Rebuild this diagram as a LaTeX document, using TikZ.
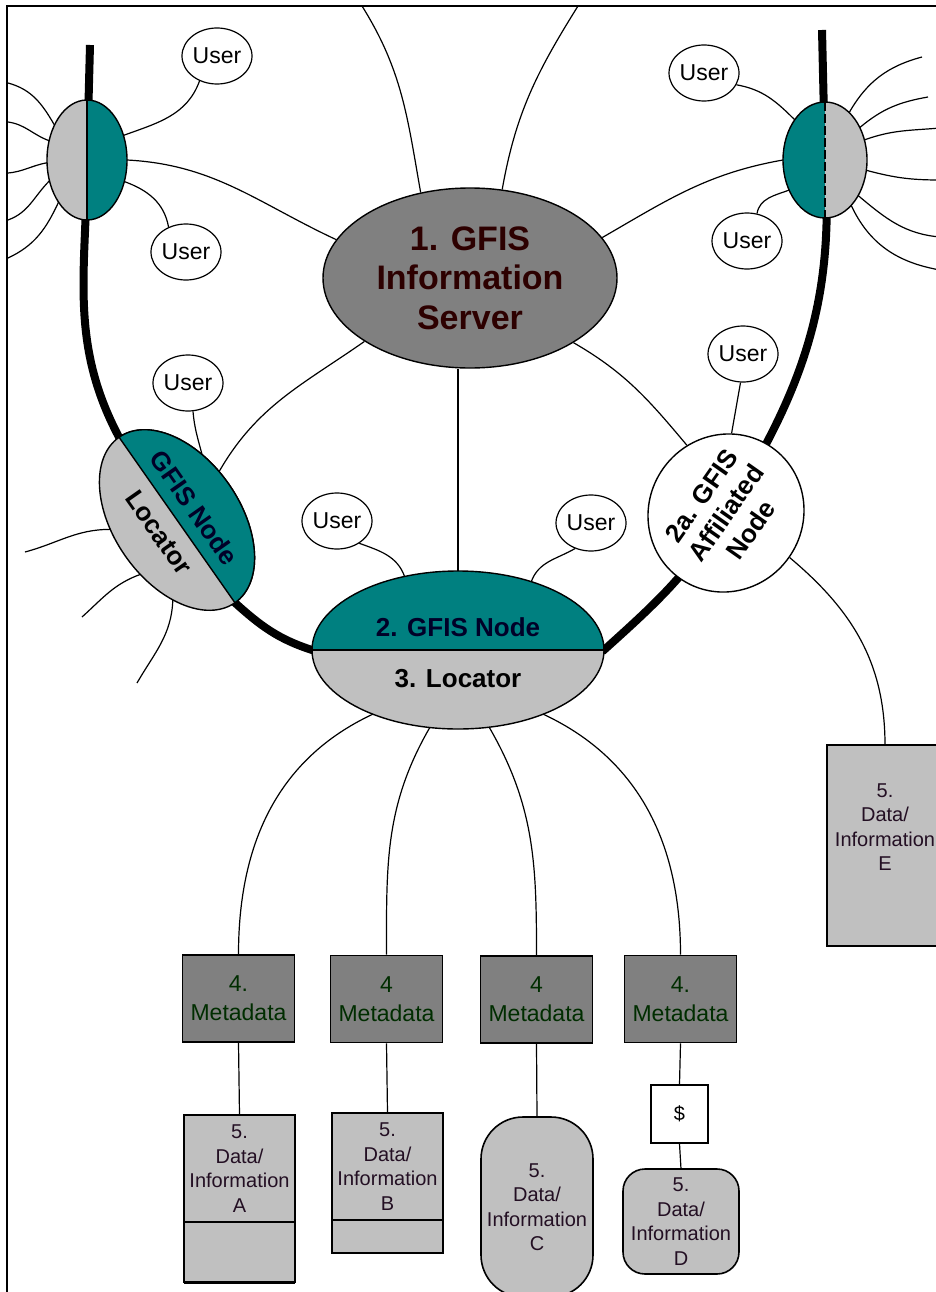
\documentclass[tikz,border=0pt]{standalone}
\usepackage{fontspec}
\setmainfont{Liberation Sans}
\usepackage{tikz}
\usetikzlibrary{positioning,calc,shapes.geometric,backgrounds}
\definecolor{gfisteal}{RGB}{0,128,128}
\definecolor{lightgrey}{RGB}{192,192,192}
\definecolor{darkgrey}{RGB}{128,128,128}
\definecolor{servertext}{RGB}{45,0,0}
\definecolor{metatext}{RGB}{0,45,0}
\definecolor{datatext}{RGB}{35,15,35}
\definecolor{nodetext}{RGB}{0,0,40}
\newcommand{\fsUser}{\fontsize{23}{27}\selectfont}
\newcommand{\fsServer}{\fontsize{34}{39.5}\selectfont\bfseries}
\newcommand{\fsNode}{\fontsize{26}{30}\selectfont\bfseries}
\newcommand{\fsMeta}{\fontsize{23}{29}\selectfont}
\newcommand{\fsData}{\fontsize{20}{24.5}\selectfont}
\tikzset{
    borderline/.style={
        line width=2pt
    },
    link/.style={
        line width=1.2pt
    },
    backbone/.style={
        line width=8pt
    },
    user/.style={
        ellipse,
        draw,
        line width=1.2pt,
        fill=white,
        inner sep=0pt,
        minimum width=70pt,
        minimum height=56pt,
        font=\fsUser
    },
    halfnode/.style={
        ellipse,
        draw,
        line width=1.4pt,
        fill=lightgrey,
        inner sep=0pt,
        outer sep=0pt
    },
    server/.style={
        ellipse,
        draw,
        line width=1.4pt,
        fill=darkgrey,
        inner sep=0pt,
        align=center,
        text=servertext,
        font=\fsServer
    },
    nodelabel/.style={
        font=\fsNode,
        inner sep=0pt
    },
    metabox/.style={
        rectangle,
        draw,
        line width=1.6pt,
        fill=darkgrey,
        minimum width=112pt,
        minimum height=87pt,
        inner sep=0pt,
        align=center,
        text=metatext,
        font=\fsMeta
    },
    databox/.style={
        rectangle,
        draw,
        line width=1.6pt,
        fill=lightgrey,
        minimum width=111pt,
        inner sep=0pt,
        outer sep=0pt,
        align=center,
        text=datatext,
        font=\fsData
    }
}
\begin{document}
\begin{tikzpicture}[x=1pt, y=1pt]
    \useasboundingbox (0,0) rectangle (936,-1292);
    \draw[borderline] (7,-1300) -- (7,-6) -- (945,-6);

    % server and the backbone nodes
    \node[server, minimum width=294pt, minimum height=180pt] (srv)
        at (470,-278) {1. GFIS\\Information\\Server};
    \node[
        halfnode,
        minimum width=80pt,
        minimum height=120pt,
        path picture={
            \fill[gfisteal] (path picture bounding box.north)
                rectangle (path picture bounding box.south east);
            \draw[line width=1.4pt] (path picture bounding box.north)
                -- (path picture bounding box.south);
        }
    ] (lnode) at (87,-160) {};
    \node[
        halfnode,
        minimum width=84pt,
        minimum height=116pt,
        path picture={
            \fill[gfisteal] (path picture bounding box.north west)
                rectangle (path picture bounding box.south);
            \draw[line width=1.4pt, dash pattern=on 9pt off 3pt]
                (path picture bounding box.north)
                -- (path picture bounding box.south);
        }
    ] (rnode) at (825,-160) {};
    \node[
        halfnode,
        minimum width=292pt,
        minimum height=158pt,
        path picture={
            \fill[gfisteal] (path picture bounding box.north west)
                rectangle (path picture bounding box.east);
            \draw[line width=1.4pt] (path picture bounding box.west)
                -- (path picture bounding box.east);
        }
    ] (hub) at (458,-650) {};
    \node[nodelabel, text=nodetext] (hubnode) at (458,-627) {2. GFIS Node};
    \node[nodelabel] (hublocator) at (458,-679) {3. Locator};

    \node[halfnode, rotate=-55, minimum width=202pt, minimum height=126pt]
        (loc) at (177,-520) {};
    \filldraw[fill=gfisteal, line width=1.4pt, rotate=-55]
        (loc.west) arc[start angle=180, end angle=0,
        x radius=101pt, y radius=63pt] -- cycle;
    \node[nodelabel, text=nodetext, rotate=-55] (locnode)
        at ($(loc.center)!0.34!(loc.north)$) {GFIS Node};
    \node[nodelabel, rotate=-55] (loclocator)
        at ($(loc.center)!0.35!(loc.south)$) {Locator};

    \node[
        ellipse,
        draw,
        line width=1.4pt,
        fill=white,
        rotate=55,
        inner sep=0pt,
        minimum width=160pt,
        minimum height=154pt,
        align=center,
        font=\fsNode
    ] (aff) at (726,-513) {2a. GFIS\\Affiliated\\Node};

    % users
    \node[user] (uTL) at (217,-56) {User};
    \node[user] (uL) at (186,-252) {User};
    \node[user] (uTR) at (704,-73) {User};
    \node[user] (uR) at (747,-241) {User};
    \node[user] (uLoc) at (188,-383) {User};
    \node[user] (uAff) at (743,-354) {User};
    \node[user] (uHubL) at (337,-521) {User};
    \node[user] (uHubR) at (591,-523) {User};

    % metadata and data
    \node[metabox] (meta1) at (238.5,-998.5) {4.\\Metadata};
    \node[metabox] (meta2) at (386.5,-999) {4\\Metadata};
    \node[metabox] (meta3) at (536.5,-999.5) {4\\Metadata};
    \node[metabox] (meta4) at (680.5,-999) {4.\\Metadata};

    \node[databox, minimum height=107pt] (dataA)
        at (239.5,-1168.5) {5.\\Data/\\Information\\A};
    \node[databox, minimum height=60pt, below=0pt of dataA] (dataAbase) {};
    \node[databox, minimum height=107pt] (dataB)
        at (387.5,-1166.5) {5.\\Data/\\Information\\B};
    \node[databox, minimum height=33pt, below=0pt of dataB] (dataBbase) {};
    \node[databox, rounded corners=42pt, minimum width=112pt, minimum height=180pt]
        (dataC) at (537,-1207) {5.\\Data/\\Information\\C};
    \node[rectangle, draw, line width=1.6pt, fill=white, minimum width=57pt,
        minimum height=58pt, font=\fsData] (fee) at (679.5,-1114) {\$};
    \node[databox, rounded corners=22pt, minimum width=116pt, minimum height=105pt]
        (dataD) at (681,-1221.5) {5.\\Data/\\Information\\D};
    \node[databox, minimum width=116pt, minimum height=201pt]
        (dataE) at (885,-845.5) {};
    \node[align=center, text=datatext, font=\fsData, inner sep=0pt] (dataEtext)
        at ($(dataE.north)+(0,-82)$) {5.\\Data/\\Information\\E};

    % free ends
    \coordinate (bbL) at (90,-45);
    \coordinate (bbR) at (822,-30);
    \coordinate (topL) at (362,-6);
    \coordinate (topR) at (578,-6);
    \coordinate (eL1) at (8,-83);
    \coordinate (eL2) at (8,-122);
    \coordinate (eL3) at (8,-173);
    \coordinate (eL4) at (8,-220);
    \coordinate (eL5) at (8,-258);
    \coordinate (eR1) at (922,-57);
    \coordinate (eR2) at (928,-97);
    \coordinate (eR3) at (940,-128);
    \coordinate (eR4) at (940,-180);
    \coordinate (eR5) at (940,-237);
    \coordinate (eR6) at (940,-270);
    \coordinate (eLoc1) at (25,-552);
    \coordinate (eLoc2) at (82,-617);
    \coordinate (eLoc3) at (137,-683);

    \begin{scope}[on background layer]
        \draw[backbone]
            (bbL) -- (lnode.center)
            to[out=-90, in=118] (loc.west) -- (loc.east)
            to[out=-42, in=162] (hub.west) -- (hub.east)
            to[out=42, in=-122] (aff.center)
            to[out=58, in=-86] (rnode.center) -- (bbR);
    \end{scope}

    \draw[link] (srv.120) to[out=100, in=-58] (topL);
    \draw[link] (srv.70) to[out=80, in=-122] (topR);
    \draw[link] (lnode.east) to[out=-3, in=155] (srv.164);
    \draw[link] (srv.17) to[out=30, in=190] (rnode.west);
    \draw[link] (loc.104) to[out=60, in=215] (srv.211);
    \draw[link] (srv.328) to[out=-30, in=130] (aff.65);
    \draw[link] (hub.north) -- (hub.north |- srv.south);

    \draw[link] (uTL.235) to[out=250, in=20] (lnode.34);
    \draw[link] (lnode.-30) to[out=-20, in=100] (uL.125);
    \draw[link] (uTR.340) to[out=-10, in=135] (rnode.127);
    \draw[link] (uR.70) to[out=80, in=200] (rnode.220);
    \draw[link] (uLoc.-80) to[out=-85, in=105] (loc.124);
    \draw[link] (uAff.265) -- (aff.31);
    \draw[link] (uHubL.315) to[out=-20, in=110] (hub.126);
    \draw[link] (uHubR.238) to[out=210, in=70] (hub.43);

    \draw[link] (lnode.133) to[out=120, in=-15] (eL1);
    \draw[link] (lnode.153) to[out=160, in=-8] (eL2);
    \draw[link] (lnode.184) to[out=190, in=5] (eL3);
    \draw[link] (lnode.209) to[out=225, in=20] (eL4);
    \draw[link] (lnode.236) to[out=245, in=25] (eL5);
    \draw[link] (rnode.63) to[out=60, in=195] (eR1);
    \draw[link] (rnode.43) to[out=40, in=190] (eR2);
    \draw[link] (rnode.27) to[out=20, in=185] (eR3);
    \draw[link] (rnode.346) to[out=-15, in=180] (eR4);
    \draw[link] (rnode.313) to[out=-40, in=175] (eR5);
    \draw[link] (rnode.300) to[out=-65, in=170] (eR6);
    \draw[link] (loc.243) to[out=180, in=15] (eLoc1);
    \draw[link] (loc.291) to[out=200, in=42] (eLoc2);
    \draw[link] (loc.322) to[out=268, in=60] (eLoc3);

    \draw[link] (hub.217) to[out=205, in=90] (meta1.north);
    \draw[link] (hub.250) to[out=240, in=90] (meta2.north);
    \draw[link] (hub.292) to[out=300, in=90] (meta3.north);
    \draw[link] (hub.323) to[out=335, in=90] (meta4.north);
    \draw[link] (meta1.south) -- (dataA.north);
    \draw[link] (meta2.south) -- (dataB.north);
    \draw[link] (meta3.south) -- (dataC.north);
    \draw[link] (meta4.south) -- (fee.north);
    \draw[link] (fee.south) -- (dataD.north);
    \draw[link] (aff.-90) to[out=-40, in=90] (dataE.north);
    \draw[line width=3pt] (dataAbase.south west) -- (dataAbase.south east);
\end{tikzpicture}
\end{document}
